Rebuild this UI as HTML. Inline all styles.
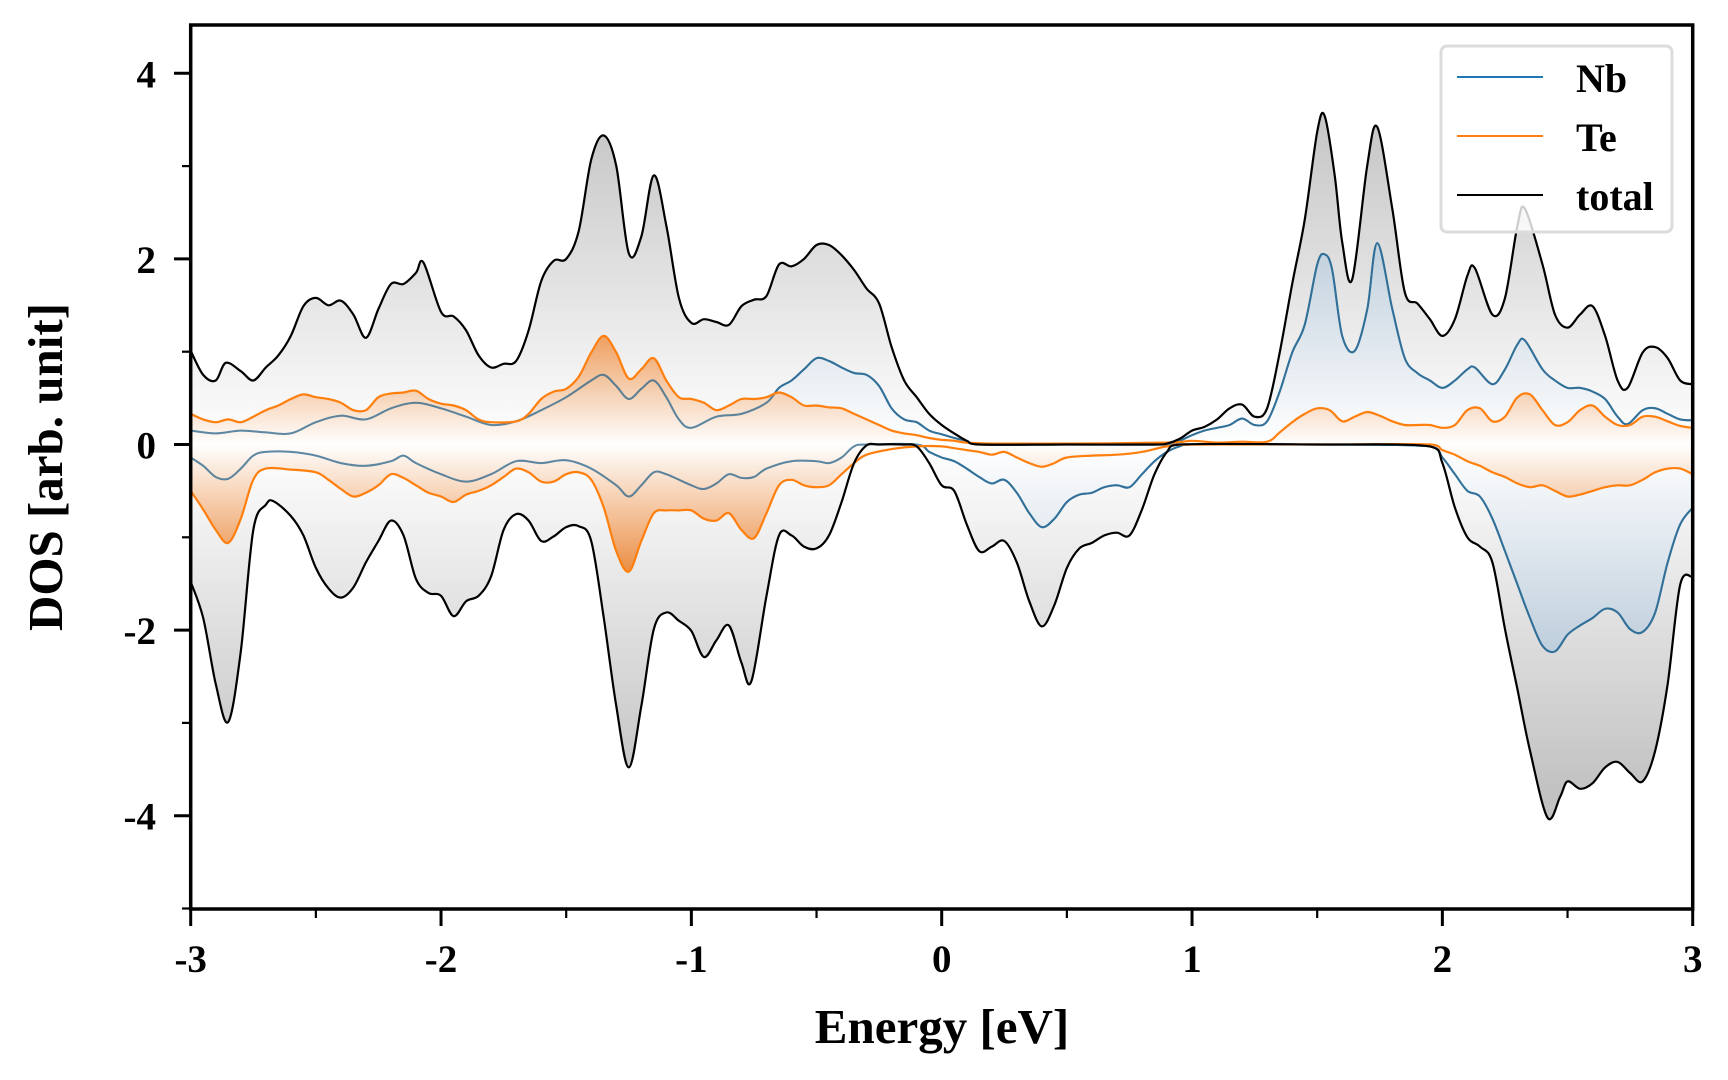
<!DOCTYPE html>
<html><head><meta charset="utf-8"><style>
html,body{margin:0;padding:0;background:#fff;}
svg{display:block;font-family:"Liberation Serif",serif;font-weight:bold;}
</style></head><body>
<svg id="chart" width="1728" height="1080" viewBox="0 0 1728 1080" xmlns="http://www.w3.org/2000/svg">
<defs>
<linearGradient id="gGray" gradientUnits="userSpaceOnUse" x1="0" y1="100" x2="0" y2="790">
<stop offset="0" stop-color="#c2c2c2"/><stop offset="0.5" stop-color="#ffffff"/><stop offset="1" stop-color="#c2c2c2"/></linearGradient>
<linearGradient id="gBlue" gradientUnits="userSpaceOnUse" x1="0" y1="230" x2="0" y2="660">
<stop offset="0" stop-color="#b9cbdb"/><stop offset="0.5" stop-color="#ffffff"/><stop offset="1" stop-color="#b9cbdb"/></linearGradient>
<linearGradient id="gOrange" gradientUnits="userSpaceOnUse" x1="0" y1="320" x2="0" y2="569">
<stop offset="0" stop-color="#ec7414"/><stop offset="0.5" stop-color="#ffffff"/><stop offset="1" stop-color="#ec7414"/></linearGradient>
<clipPath id="plotClip"><rect x="191" y="25" width="1502" height="884"/></clipPath>
</defs>
<g id="plot" clip-path="url(#plotClip)"></g>
<g id="axes"></g>
<g id="legend">
<rect x="1441" y="46" width="231" height="186" rx="6" fill="#fff" fill-opacity="0.8" stroke="#dcdcdc" stroke-width="3"/>
<line x1="1457" y1="77" x2="1543" y2="77" stroke="#1f77b4" stroke-width="2"/>
<text x="1576" y="92" font-size="40">Nb</text>
<line x1="1457" y1="136" x2="1543" y2="136" stroke="#ff7f0e" stroke-width="2"/>
<text x="1576" y="151" font-size="40">Te</text>
<line x1="1457" y1="195" x2="1543" y2="195" stroke="#000" stroke-width="2"/>
<text x="1576" y="210" font-size="40">total</text>
</g>
<text x="942" y="1043" font-size="49" text-anchor="middle">Energy [eV]</text>
<text transform="translate(62,467) rotate(-90)" font-size="49" text-anchor="middle">DOS [arb. unit]</text>
</svg>
<script>
const totUpE=[-3,-2.95,-2.9,-2.86,-2.8,-2.75,-2.7,-2.65,-2.6,-2.55,-2.5,-2.45,-2.4,-2.35,-2.3,-2.25,-2.2,-2.15,-2.1,-2.07,-2.0,-1.95,-1.9,-1.85,-1.8,-1.75,-1.7,-1.65,-1.6,-1.55,-1.5,-1.45,-1.4,-1.35,-1.3,-1.25,-1.2,-1.15,-1.1,-1.05,-1.0,-0.95,-0.9,-0.85,-0.8,-0.75,-0.7,-0.65,-0.6,-0.55,-0.5,-0.45,-0.4,-0.35,-0.3,-0.25,-0.2,-0.15,-0.1,-0.05,0,0.05,0.1,0.15,0.5,0.85,0.9,0.95,1.0,1.05,1.1,1.15,1.2,1.25,1.3,1.35,1.4,1.45,1.5,1.53,1.57,1.6,1.64,1.7,1.74,1.8,1.85,1.9,1.95,2.0,2.05,2.1,2.13,2.2,2.25,2.3,2.33,2.4,2.45,2.5,2.55,2.6,2.65,2.7,2.74,2.8,2.85,2.9,2.95,3.0];
const totUpV=[1.01,0.75,0.69,0.88,0.79,0.69,0.83,0.96,1.17,1.49,1.58,1.5,1.55,1.4,1.15,1.46,1.73,1.73,1.85,1.96,1.43,1.38,1.23,0.96,0.83,0.87,0.9,1.23,1.76,1.98,2.0,2.3,3.07,3.33,3.0,2.06,2.24,2.9,2.36,1.58,1.31,1.35,1.32,1.29,1.49,1.56,1.6,1.94,1.92,2.0,2.15,2.15,2.04,1.88,1.68,1.52,1.05,0.69,0.51,0.33,0.21,0.12,0.04,0,0,0,0.01,0.06,0.15,0.19,0.27,0.39,0.43,0.3,0.39,0.99,1.73,2.42,3.37,3.54,2.9,2.18,1.78,3.01,3.42,2.54,1.64,1.52,1.35,1.17,1.35,1.82,1.9,1.4,1.58,2.36,2.54,1.94,1.4,1.26,1.4,1.49,1.17,0.69,0.61,0.99,1.05,0.93,0.69,0.65];
const totDnE=[-3,-2.95,-2.9,-2.85,-2.8,-2.75,-2.7,-2.67,-2.6,-2.55,-2.5,-2.45,-2.4,-2.35,-2.3,-2.25,-2.2,-2.15,-2.1,-2.05,-2.0,-1.95,-1.9,-1.85,-1.8,-1.75,-1.7,-1.65,-1.6,-1.55,-1.5,-1.45,-1.4,-1.35,-1.3,-1.25,-1.2,-1.15,-1.1,-1.05,-1.0,-0.95,-0.9,-0.85,-0.8,-0.76,-0.7,-0.65,-0.6,-0.55,-0.5,-0.45,-0.4,-0.35,-0.3,-0.25,-0.15,-0.1,-0.05,0,0.05,0.1,0.15,0.2,0.25,0.3,0.35,0.4,0.45,0.5,0.55,0.6,0.65,0.7,0.75,0.8,0.85,0.9,0.95,1.5,1.95,2.0,2.05,2.1,2.15,2.2,2.25,2.3,2.35,2.42,2.47,2.5,2.55,2.6,2.65,2.7,2.75,2.8,2.85,2.9,2.95,3.0];
const totDnV=[-1.48,-1.87,-2.58,-2.99,-2.23,-0.92,-0.65,-0.61,-0.77,-0.98,-1.33,-1.55,-1.65,-1.54,-1.27,-1.04,-0.82,-0.98,-1.45,-1.6,-1.63,-1.85,-1.69,-1.63,-1.42,-0.92,-0.75,-0.82,-1.04,-0.99,-0.89,-0.88,-1.04,-1.87,-2.82,-3.48,-2.82,-1.99,-1.81,-1.9,-2.01,-2.29,-2.11,-1.95,-2.35,-2.55,-1.63,-0.98,-0.98,-1.1,-1.12,-0.98,-0.62,-0.2,-0.01,0,0,-0.02,-0.2,-0.44,-0.5,-0.86,-1.15,-1.1,-1.04,-1.27,-1.69,-1.96,-1.73,-1.33,-1.12,-1.06,-0.98,-0.95,-0.98,-0.7,-0.32,-0.08,0,0,-0.02,-0.2,-0.68,-1.0,-1.1,-1.27,-1.99,-2.64,-3.3,-4.02,-3.8,-3.63,-3.71,-3.65,-3.48,-3.42,-3.54,-3.63,-3.3,-2.58,-1.51,-1.43];
const nbUpE=[-3,-2.9,-2.8,-2.7,-2.6,-2.5,-2.4,-2.3,-2.2,-2.1,-2.0,-1.9,-1.8,-1.7,-1.6,-1.5,-1.4,-1.35,-1.3,-1.25,-1.2,-1.15,-1.1,-1.05,-1.0,-0.9,-0.8,-0.7,-0.65,-0.6,-0.55,-0.5,-0.45,-0.4,-0.35,-0.3,-0.25,-0.2,-0.15,-0.1,-0.05,0,0.05,0.1,0.15,0.5,0.9,0.95,1.0,1.05,1.1,1.15,1.2,1.25,1.3,1.35,1.4,1.45,1.5,1.53,1.56,1.6,1.65,1.7,1.74,1.8,1.85,1.9,1.95,2.0,2.05,2.1,2.13,2.2,2.25,2.3,2.33,2.4,2.45,2.5,2.55,2.6,2.65,2.7,2.74,2.8,2.85,2.9,2.95,3.0];
const nbUpV=[0.15,0.12,0.15,0.13,0.12,0.24,0.31,0.27,0.39,0.45,0.39,0.3,0.21,0.25,0.37,0.51,0.69,0.75,0.63,0.49,0.6,0.69,0.51,0.27,0.18,0.3,0.33,0.45,0.61,0.69,0.81,0.93,0.9,0.83,0.77,0.75,0.63,0.39,0.27,0.24,0.15,0.11,0.07,0.04,0,0,0,0.04,0.1,0.15,0.18,0.21,0.28,0.21,0.25,0.57,0.99,1.29,1.94,2.05,1.88,1.17,1.01,1.46,2.17,1.46,0.93,0.77,0.69,0.61,0.69,0.81,0.83,0.65,0.81,1.08,1.12,0.81,0.69,0.61,0.61,0.57,0.49,0.3,0.22,0.37,0.39,0.33,0.27,0.26];
const nbDnE=[-3,-2.95,-2.9,-2.85,-2.8,-2.75,-2.7,-2.6,-2.5,-2.4,-2.3,-2.2,-2.15,-2.1,-2.0,-1.9,-1.8,-1.7,-1.6,-1.5,-1.4,-1.3,-1.25,-1.2,-1.15,-1.1,-1.0,-0.95,-0.9,-0.85,-0.8,-0.75,-0.7,-0.6,-0.5,-0.45,-0.4,-0.35,-0.3,-0.1,-0.05,0,0.05,0.1,0.15,0.2,0.25,0.3,0.35,0.4,0.45,0.5,0.55,0.6,0.65,0.7,0.75,0.8,0.85,0.9,0.95,1.0,1.5,1.95,2.0,2.05,2.1,2.15,2.2,2.25,2.3,2.35,2.4,2.45,2.5,2.55,2.6,2.65,2.7,2.75,2.8,2.85,2.9,2.95,3.0];
const nbDnV=[-0.14,-0.23,-0.35,-0.37,-0.26,-0.12,-0.08,-0.08,-0.12,-0.2,-0.23,-0.18,-0.12,-0.2,-0.32,-0.4,-0.32,-0.18,-0.2,-0.17,-0.26,-0.44,-0.56,-0.44,-0.3,-0.32,-0.44,-0.48,-0.42,-0.32,-0.36,-0.35,-0.26,-0.18,-0.18,-0.2,-0.14,-0.02,0,0,-0.08,-0.14,-0.18,-0.26,-0.35,-0.42,-0.38,-0.52,-0.74,-0.89,-0.8,-0.62,-0.54,-0.52,-0.46,-0.44,-0.46,-0.32,-0.18,-0.08,-0.02,0,0,-0.02,-0.14,-0.32,-0.5,-0.56,-0.8,-1.15,-1.51,-1.87,-2.17,-2.23,-2.05,-1.95,-1.87,-1.77,-1.81,-1.99,-2.02,-1.81,-1.27,-0.86,-0.68];
const teUpE=[-3,-2.95,-2.9,-2.85,-2.8,-2.75,-2.7,-2.65,-2.6,-2.55,-2.5,-2.45,-2.4,-2.35,-2.3,-2.25,-2.2,-2.15,-2.1,-2.05,-2.0,-1.95,-1.9,-1.85,-1.8,-1.7,-1.65,-1.6,-1.55,-1.5,-1.45,-1.4,-1.35,-1.3,-1.25,-1.2,-1.15,-1.1,-1.05,-1.0,-0.95,-0.9,-0.85,-0.8,-0.75,-0.7,-0.65,-0.6,-0.55,-0.5,-0.45,-0.4,-0.35,-0.3,-0.25,-0.2,-0.15,-0.1,-0.05,0,0.05,0.1,0.2,0.5,0.9,1.0,1.1,1.2,1.3,1.35,1.4,1.45,1.5,1.55,1.6,1.65,1.7,1.75,1.8,1.85,1.9,1.95,2.0,2.05,2.1,2.15,2.2,2.25,2.3,2.35,2.4,2.45,2.5,2.55,2.6,2.65,2.7,2.75,2.8,2.85,2.9,2.95,3.0];
const teUpV=[0.33,0.27,0.24,0.27,0.24,0.3,0.37,0.42,0.49,0.54,0.51,0.49,0.45,0.37,0.37,0.51,0.55,0.56,0.58,0.49,0.44,0.42,0.37,0.27,0.24,0.25,0.33,0.49,0.57,0.6,0.73,0.99,1.17,0.99,0.71,0.81,0.93,0.69,0.51,0.49,0.45,0.37,0.42,0.49,0.49,0.51,0.56,0.51,0.42,0.42,0.4,0.39,0.33,0.27,0.21,0.15,0.12,0.1,0.07,0.05,0.04,0.02,0.01,0.01,0.02,0.04,0.02,0.03,0.03,0.13,0.24,0.33,0.39,0.37,0.25,0.3,0.35,0.31,0.25,0.21,0.21,0.21,0.18,0.21,0.37,0.39,0.25,0.3,0.51,0.54,0.37,0.21,0.24,0.37,0.42,0.3,0.21,0.21,0.3,0.3,0.25,0.2,0.18];
const teDnE=[-3,-2.95,-2.9,-2.85,-2.8,-2.75,-2.7,-2.6,-2.5,-2.45,-2.4,-2.35,-2.3,-2.25,-2.2,-2.15,-2.1,-2.05,-2.0,-1.95,-1.9,-1.85,-1.8,-1.75,-1.7,-1.65,-1.6,-1.55,-1.5,-1.45,-1.4,-1.35,-1.3,-1.25,-1.2,-1.15,-1.1,-1.05,-1.0,-0.95,-0.9,-0.85,-0.8,-0.75,-0.7,-0.65,-0.6,-0.55,-0.5,-0.45,-0.4,-0.35,-0.3,-0.2,-0.1,0,0.05,0.1,0.15,0.2,0.25,0.3,0.35,0.4,0.45,0.5,0.6,0.7,0.8,0.9,1.0,1.5,1.95,2.0,2.05,2.1,2.15,2.2,2.25,2.3,2.35,2.4,2.45,2.5,2.55,2.6,2.65,2.7,2.75,2.8,2.85,2.9,2.95,3.0];
const teDnV=[-0.5,-0.7,-0.92,-1.06,-0.8,-0.38,-0.26,-0.27,-0.3,-0.38,-0.48,-0.56,-0.52,-0.44,-0.32,-0.36,-0.44,-0.52,-0.56,-0.62,-0.54,-0.5,-0.44,-0.35,-0.26,-0.3,-0.4,-0.4,-0.32,-0.3,-0.38,-0.68,-1.15,-1.37,-1.04,-0.74,-0.71,-0.71,-0.71,-0.8,-0.82,-0.74,-0.92,-1.01,-0.74,-0.44,-0.38,-0.44,-0.46,-0.44,-0.32,-0.2,-0.11,-0.05,-0.02,-0.02,-0.04,-0.06,-0.08,-0.11,-0.08,-0.14,-0.2,-0.24,-0.2,-0.14,-0.12,-0.11,-0.08,-0.02,0,0,0,-0.06,-0.11,-0.18,-0.23,-0.3,-0.35,-0.42,-0.46,-0.44,-0.5,-0.56,-0.54,-0.5,-0.46,-0.44,-0.44,-0.38,-0.3,-0.26,-0.26,-0.32];
const xTicks=[-3,-2,-1,0,1,2,3];
const xTickLabels=["-3","-2","-1","0","1","2","3"];
const yTicks=[4,2,0,-2,-4];
const yTickLabels=["4","2","0","-2","-4"];

const NS="http://www.w3.org/2000/svg";
const X0=190.7,X1=1692.7,XMIN=-3,XMAX=3;
const Y0=444.5,YU=92.8;
function sx(e){return X0+(e-XMIN)/(XMAX-XMIN)*(X1-X0);}
function sy(v){return Y0-v*YU;}
function curve(E,V){
  const p=E.map((e,i)=>[sx(e),sy(V[i])]);
  let d="M"+p[0][0].toFixed(1)+","+p[0][1].toFixed(1);
  for(let i=0;i<p.length-1;i++){
    const a=p[Math.max(i-1,0)],b=p[i],c=p[i+1],n=p[Math.min(i+2,p.length-1)];
    const t=1/6;
    let c1x=b[0]+(c[0]-a[0])*t,c1y=b[1]+(c[1]-a[1])*t;
    let c2x=c[0]-(n[0]-b[0])*t,c2y=c[1]-(n[1]-b[1])*t;
    c1x=Math.min(Math.max(c1x,b[0]),c[0]);c2x=Math.min(Math.max(c2x,b[0]),c[0]);
    d+="C"+c1x.toFixed(1)+","+c1y.toFixed(1)+" "+c2x.toFixed(1)+","+c2y.toFixed(1)+" "+c[0].toFixed(1)+","+c[1].toFixed(1);
  }
  return d;
}
function area(E,V){
  return curve(E,V)+"L"+sx(E[E.length-1]).toFixed(1)+","+sy(0)+"L"+sx(E[0]).toFixed(1)+","+sy(0)+"Z";
}
const plot=document.getElementById("plot");
function mk(tag,attrs){const el=document.createElementNS(NS,tag);for(const k in attrs)el.setAttribute(k,attrs[k]);return el;}
function addArea(E,V,fill,op,name){
  const el=mk("path",{d:area(E,V),fill:fill,"fill-opacity":op});
  
  
  plot.appendChild(el);
}
function addLine(E,V,color,w,op,name){
  const el=mk("path",{d:curve(E,V),fill:"none",stroke:color,"stroke-width":w,"stroke-opacity":op,"stroke-linejoin":"round"});
  
  
  plot.appendChild(el);
}
addArea(totUpE,totUpV,"url(#gGray)",1,"total-up-fill");
addArea(totDnE,totDnV,"url(#gGray)",1,"total-down-fill");
addArea(nbUpE,nbUpV,"url(#gBlue)",0.9,"nb-up-fill");
addArea(nbDnE,nbDnV,"url(#gBlue)",0.9,"nb-down-fill");
addLine(nbUpE,nbUpV,"#1f77b4",2,1,"nb-up-line");
addLine(nbDnE,nbDnV,"#1f77b4",2,1,"nb-down-line");
addArea(teUpE,teUpV,"url(#gOrange)",0.75,"te-up-fill");
addArea(teDnE,teDnV,"url(#gOrange)",0.75,"te-down-fill");
addLine(nbUpE,nbUpV,"#3a6d8f",2,0.75,"nb-up-line-overlay");
addLine(nbDnE,nbDnV,"#3a6d8f",2,0.75,"nb-down-line-overlay");
addLine(teUpE,teUpV,"#ff7f0e",2.2,1,"te-up-line");
addLine(teDnE,teDnV,"#ff7f0e",2.2,1,"te-down-line");
addLine(totUpE,totUpV,"#000",2.2,1,"total-up-line");
addLine(totDnE,totDnV,"#000",2.2,1,"total-down-line");

const axes=document.getElementById("axes");
const frame=mk("rect",{x:X0,y:25,width:X1-X0,height:909-25,fill:"none",stroke:"#000","stroke-width":3.5});


axes.appendChild(frame);
for(let i=0;i<=12;i++){
  const e=-3+i*0.5, major=(i%2===0);
  const t=mk("line",{x1:sx(e),x2:sx(e),y1:909,y2:major?926:918,stroke:"#000","stroke-width":major?3:2.2});
  
  
  axes.appendChild(t);
}
xTicks.forEach((e,i)=>{
  const t=mk("text",{x:sx(e),y:972,"font-size":39,"text-anchor":"middle"});
  t.textContent=xTickLabels[i];
  
  
  axes.appendChild(t);
});
for(let v=4;v>=-5;v--){
  const major=(v%2===0);
  const t=mk("line",{x1:major?174:182,x2:X0,y1:sy(v),y2:sy(v),stroke:"#000","stroke-width":major?3:2.2});
  
  
  axes.appendChild(t);
}
yTicks.forEach((v,i)=>{
  const t=mk("text",{x:156,y:sy(v)+14,"font-size":39,"text-anchor":"end"});
  t.textContent=yTickLabels[i];
  
  
  axes.appendChild(t);
});
</script>
</body></html>
